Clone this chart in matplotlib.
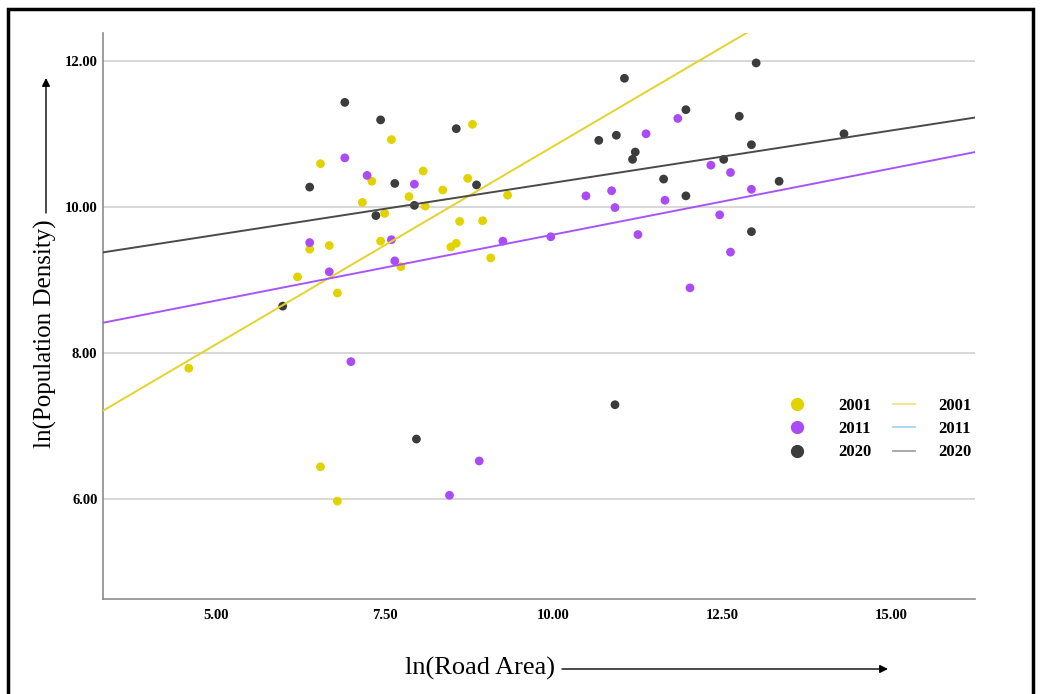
import matplotlib.pyplot as plt
import numpy as np
from matplotlib.lines import Line2D
from matplotlib.patches import Rectangle

# values (ln scale)
x_2001 = [4.60, 6.21, 6.39, 6.55, 6.55, 6.68, 6.80, 6.80, 7.17, 7.31, 7.44, 7.50, 7.60,
          7.74, 7.86, 8.07, 8.10, 8.36, 8.48, 8.56, 8.61, 8.73, 8.80, 8.95, 9.07, 9.32]
y_2001 = [7.79, 9.04, 9.42, 10.59, 6.44, 9.47, 8.82, 5.97, 10.06, 10.35, 9.53, 9.91, 10.92,
          9.18, 10.14, 10.49, 10.01, 10.23, 9.45, 9.50, 9.80, 10.39, 11.13, 9.81, 9.30, 10.16]

x_2011 = [6.39, 6.68, 6.91, 7.00, 7.24, 7.60, 7.65, 7.94, 8.46, 8.90, 9.25, 9.96, 10.48,
          10.86, 10.91, 11.25, 11.37, 11.65, 11.84, 12.02, 12.33, 12.46, 12.62, 12.62, 12.93]
y_2011 = [9.51, 9.11, 10.67, 7.88, 10.43, 9.55, 9.26, 10.31, 6.05, 6.52, 9.53, 9.59, 10.15,
          10.22, 9.99, 9.62, 11.00, 10.09, 11.21, 8.89, 10.57, 9.89, 10.47, 9.38, 10.24]

x_2020 = [5.99, 6.39, 6.91, 7.37, 7.44, 7.65, 7.94, 7.97, 8.56, 8.86, 10.67, 10.91, 10.93,
          11.05, 11.17, 11.21, 11.63, 11.96, 11.96, 12.52, 12.75, 12.93, 12.93, 13.00, 13.34, 14.30]
y_2020 = [8.64, 10.27, 11.43, 9.88, 11.19, 10.32, 10.02, 6.82, 11.07, 10.30, 10.91, 7.29, 10.98,
          11.76, 10.65, 10.75, 10.38, 11.33, 10.15, 10.65, 11.24, 10.85, 9.66, 11.97, 10.35, 11.00]

# fit lines (intercept, slope) as shown in the chart
fit_2001 = (5.40, 0.543)
fit_2011 = (7.81, 0.181)
fit_2020 = (8.90, 0.143)

years = ['2001', '2011', '2020']
dot_colors = ['#e2d200', '#aa4bf5', '#3c3c3c']
line_colors = ['#e3d32a', '#a855f7', '#4a4a4a']
legend_line_colors = ['#ece27a', '#a0cff0', '#9a9a9a']

plt.rcParams['font.family'] = ['Liberation Serif', 'DejaVu Serif']

W, H = 1040, 694
fig = plt.figure(figsize=(W / 100, H / 100), dpi=100)
ax = fig.add_axes([103 / W, 1 - 599 / H, (975 - 103) / W, (599 - 33) / H])

xmin, xmax = 3.33, 16.24
ymin, ymax = 4.63, 12.38

xs_all = [x_2001, x_2011, x_2020]
ys_all = [y_2001, y_2011, y_2020]
fits = [fit_2001, fit_2011, fit_2020]

for xs, ys, c in zip(xs_all, ys_all, dot_colors):
    ax.scatter(xs, ys, s=40, color=c, edgecolors='none', zorder=3)

xx = np.array([xmin, xmax])
for (b0, b1), c in zip(fits, line_colors):
    ax.plot(xx, b0 + b1 * xx, color=c, lw=1.4, zorder=4)

ax.set_xlim(xmin, xmax)
ax.set_ylim(ymin, ymax)
ax.set_xticks([5, 7.5, 10, 12.5, 15])
ax.set_yticks([6, 8, 10, 12])
ax.set_xticklabels(['%.2f' % v for v in [5, 7.5, 10, 12.5, 15]], fontsize=10.5, fontweight='bold')
ax.set_yticklabels(['%.2f' % v for v in [6, 8, 10, 12]], fontsize=10.5, fontweight='bold')
ax.tick_params(length=0)
ax.tick_params(axis='x', pad=7)
ax.tick_params(axis='y', pad=4)
ax.grid(axis='y', color='#d2d2d2', lw=1.2)
ax.set_axisbelow(True)
for s in ['top', 'right']:
    ax.spines[s].set_visible(False)
for s in ['left', 'bottom']:
    ax.spines[s].set_color('#8c8c8c')
    ax.spines[s].set_linewidth(1.2)

# legends: dots column and fit-line column
dot_handles = [Line2D([], [], ls='none', marker='o', markersize=8.5, color=c) for c in dot_colors]
leg1 = fig.legend(dot_handles, years, loc='center left',
                  bbox_to_anchor=(789 / W, 1 - 429 / H), frameon=False,
                  prop={'size': 12, 'weight': 'bold'}, handlelength=1.0,
                  handletextpad=1.96, labelspacing=0.45, borderpad=0, borderaxespad=0)
line_handles = [Line2D([], [], color=c, lw=1.2) for c in legend_line_colors]
leg2 = fig.legend(line_handles, years, loc='center left',
                  bbox_to_anchor=(893 / W, 1 - 429 / H), frameon=False,
                  prop={'size': 12, 'weight': 'bold'}, handlelength=1.32,
                  handletextpad=1.38, labelspacing=0.45, borderpad=0, borderaxespad=0)

# axis titles with arrows
fig.text(480 / W, 1 - 668 / H, 'ln(Road Area)', fontsize=19, ha='center', va='center')
fig.text(45 / W, 1 - 334 / H, 'ln(Population Density)', fontsize=18, rotation=90,
         ha='center', va='center')
arrow = dict(arrowstyle='-|>', color='black', lw=1.0, mutation_scale=12, shrinkA=0, shrinkB=0)
fig.patches.append(Rectangle((8 / W, -0.02), (1033 - 8) / W, 1.02 - 9 / H,
                             transform=fig.transFigure, fill=False, ec='black', lw=2.5))
ax.annotate('', xy=(888 / W, 1 - 669 / H), xytext=(562 / W, 1 - 669 / H),
            xycoords='figure fraction', textcoords='figure fraction', arrowprops=arrow)
ax.annotate('', xy=(46 / W, 1 - 78 / H), xytext=(46 / W, 1 - 213 / H),
            xycoords='figure fraction', textcoords='figure fraction', arrowprops=arrow)

fig.savefig('out.png', dpi=100)
